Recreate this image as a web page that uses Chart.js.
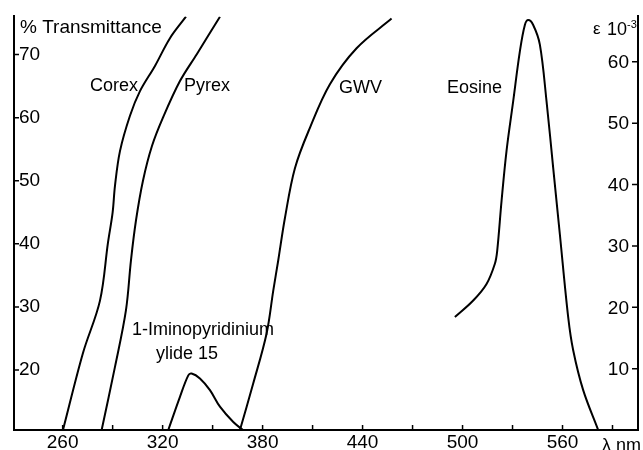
<!DOCTYPE html>
<html>
<head>
<meta charset="utf-8">
<script src="https://cdn.jsdelivr.net/npm/chart.js@4.4.0/dist/chart.umd.min.js"></script>
<style>
  html, body { margin: 0; padding: 0; background: #fff; overflow: hidden; }
  canvas { display: block; }
</style>
</head>
<body>
<canvas id="grafica" width="643" height="450"></canvas>
<script>
// curvas de transmitancia (eje izquierdo, %)
const corexNm = [260.2, 272.2, 282.4, 287.2, 290.0, 291.4, 294.4, 300.4, 306.4, 315.4, 324.4, 334.0];
const corexT  = [10.5, 22.7, 31.0, 40.2, 45.0, 49.2, 54.7, 60.3, 64.2, 68.2, 72.6, 76.0];

const pyrexNm = [283.4, 291.4, 298.0, 301.0, 304.0, 308.2, 313.6, 320.2, 330.4, 340.6, 354.4];
const pyrexT  = [10.5, 20.5, 29.5, 37.4, 43.7, 50.0, 55.5, 60.0, 65.8, 70.1, 76.0];

const gwvNm = [366.4, 374.4, 382.4, 386.4, 389.4, 393.4, 399.4, 408.4, 420.4, 436.4, 457.4];
const gwvT  = [10.5, 17.9, 25.8, 32.6, 37.4, 44.1, 52.0, 58.4, 65.3, 71.0, 75.7];

// absorcion (eje derecho, epsilon x 10^-3)
const ylideNm = [323.4, 330.4, 335.4, 337.4, 342.4, 348.4, 354.4, 362.4, 368.2];
const ylideE  = [0, 5.4, 8.9, 9.2, 8.4, 6.5, 3.8, 1.3, 0];

const eosineNm = [495.4, 506.4, 514.4, 519.4, 520.8, 523.4, 526.4, 530.4, 534.4, 537.4,
    539.4, 542.4, 546.4, 550.4, 554.4, 558.4, 563.4, 566.4, 572.4, 581.4];
const eosineE  = [18.4, 21.1, 23.8, 27.1, 29.2, 37.3, 45.5, 53.6, 61.7, 66.0,
    66.8, 66.0, 62.8, 53.6, 42.7, 31.9, 18.4, 13.0, 6.5, 0];

const xTicks = [260, 290, 320, 350, 380, 410, 440, 470, 500, 530, 560, 590];
const xLabels = [260, 320, 380, 440, 500, 560];
const leftTicks = [20, 30, 40, 50, 60, 70];
const rightTicks = [10, 20, 30, 40, 50, 60];

const FUENTE = '"Liberation Sans", Arial, sans-serif';

function puntos(xs, ys) {
    return xs.map((x, i) => ({ x: x, y: ys[i] }));
}

function serie(nombre, xs, ys, eje) {
    return {
        label: nombre,
        data: puntos(xs, ys),
        yAxisID: eje,
        borderColor: '#000',
        borderWidth: 2,
        pointRadius: 0,
        fill: false,
        tension: 0.35
    };
}

function texto(ctx, s, x, y, size) {
    ctx.font = size + 'px ' + FUENTE;
    ctx.fillText(s, x, y);
}

const marcas = {
    id: 'marcas',
    afterDraw(chart) {
        const ctx = chart.ctx;
        const sx = chart.scales.x, yl = chart.scales.yL, yr = chart.scales.yR;
        const area = chart.chartArea;
        ctx.save();
        ctx.strokeStyle = '#000';
        // borde derecho
        ctx.lineWidth = 2;
        ctx.beginPath();
        ctx.moveTo(area.right, area.top);
        ctx.lineTo(area.right, area.bottom);
        ctx.stroke();

        // marcas hacia dentro
        ctx.lineWidth = 1.5;
        ctx.beginPath();
        xTicks.forEach(v => {
            const px = sx.getPixelForValue(v);
            ctx.moveTo(px, area.bottom);
            ctx.lineTo(px, area.bottom - 5);
        });
        leftTicks.forEach(v => {
            const py = yl.getPixelForValue(v);
            ctx.moveTo(area.left, py);
            ctx.lineTo(area.left + 5, py);
        });
        rightTicks.forEach(v => {
            const py = yr.getPixelForValue(v);
            ctx.moveTo(area.right, py);
            ctx.lineTo(area.right - 6, py);
        });
        ctx.stroke();

        ctx.fillStyle = '#000';
        // etiquetas del eje derecho, por dentro
        ctx.textAlign = 'right';
        ctx.textBaseline = 'middle';
        rightTicks.forEach(v => {
            texto(ctx, String(v), area.right - 9, yr.getPixelForValue(v) + 1, 19);
        });

        ctx.textAlign = 'left';
        ctx.textBaseline = 'alphabetic';
        texto(ctx, '% Transmittance', 20, 33, 19);
        texto(ctx, 'Corex', 90, 91, 18);
        texto(ctx, 'Pyrex', 184, 91, 18);
        texto(ctx, 'GWV', 339, 93, 18);
        texto(ctx, 'Eosine', 447, 93, 18);
        texto(ctx, '1-Iminopyridinium', 132, 335, 18);
        texto(ctx, 'ylide 15', 156, 359, 18);
        texto(ctx, 'ε', 593, 34, 17);
        texto(ctx, '10', 607, 35, 18);
        texto(ctx, '-3', 627, 28, 11);
        texto(ctx, 'λ nm', 602, 451, 18);
        ctx.restore();
    }
};

const grafica = new Chart(document.getElementById('grafica'), {
    type: 'line',
    data: {
        datasets: [
            serie('Corex', corexNm, corexT, 'yL'),
            serie('Pyrex', pyrexNm, pyrexT, 'yL'),
            serie('GWV', gwvNm, gwvT, 'yL'),
            serie('1-Iminopyridinium ylide 15', ylideNm, ylideE, 'yR'),
            serie('Eosine', eosineNm, eosineE, 'yR')
        ]
    },
    options: {
        responsive: false,
        animation: false,
        devicePixelRatio: 1,
        layout: { padding: { left: 14, right: 5, top: 13.6, bottom: 0 } },
        plugins: { legend: { display: false }, tooltip: { enabled: false } },
        scales: {
            x: {
                type: 'linear',
                position: 'bottom',
                min: 230.8,
                max: 605.3,
                afterBuildTicks: a => { a.ticks = xTicks.map(v => ({ value: v })); },
                afterFit: s => { s.height = 20; },
                ticks: {
                    autoSkip: false,
                    maxRotation: 0,
                    padding: 3,
                    color: '#000',
                    font: { family: FUENTE, size: 19, lineHeight: 1 },
                    callback: v => xLabels.includes(v) ? String(v) : ''
                },
                grid: { display: false, drawTicks: false },
                border: { display: true, color: '#000', width: 2 }
            },
            yL: {
                type: 'linear',
                position: 'left',
                min: 10.5,
                max: 76.05,
                afterBuildTicks: a => { a.ticks = leftTicks.map(v => ({ value: v })); },
                afterFit: s => { s.width = 0; },
                ticks: {
                    mirror: true,
                    padding: 5,
                    color: '#000',
                    font: { family: FUENTE, size: 19 },
                    callback: v => String(v)
                },
                grid: { display: false, drawTicks: false },
                border: { display: true, color: '#000', width: 2 }
            },
            yR: {
                type: 'linear',
                position: 'right',
                min: 0,
                max: 67.4,
                afterBuildTicks: a => { a.ticks = rightTicks.map(v => ({ value: v })); },
                afterFit: s => { s.width = 0; },
                ticks: { display: false },
                grid: { display: false, drawTicks: false },
                border: { display: true, color: '#000', width: 2 }
            }
        }
    },
    plugins: [marcas]
});
</script>
</body>
</html>
